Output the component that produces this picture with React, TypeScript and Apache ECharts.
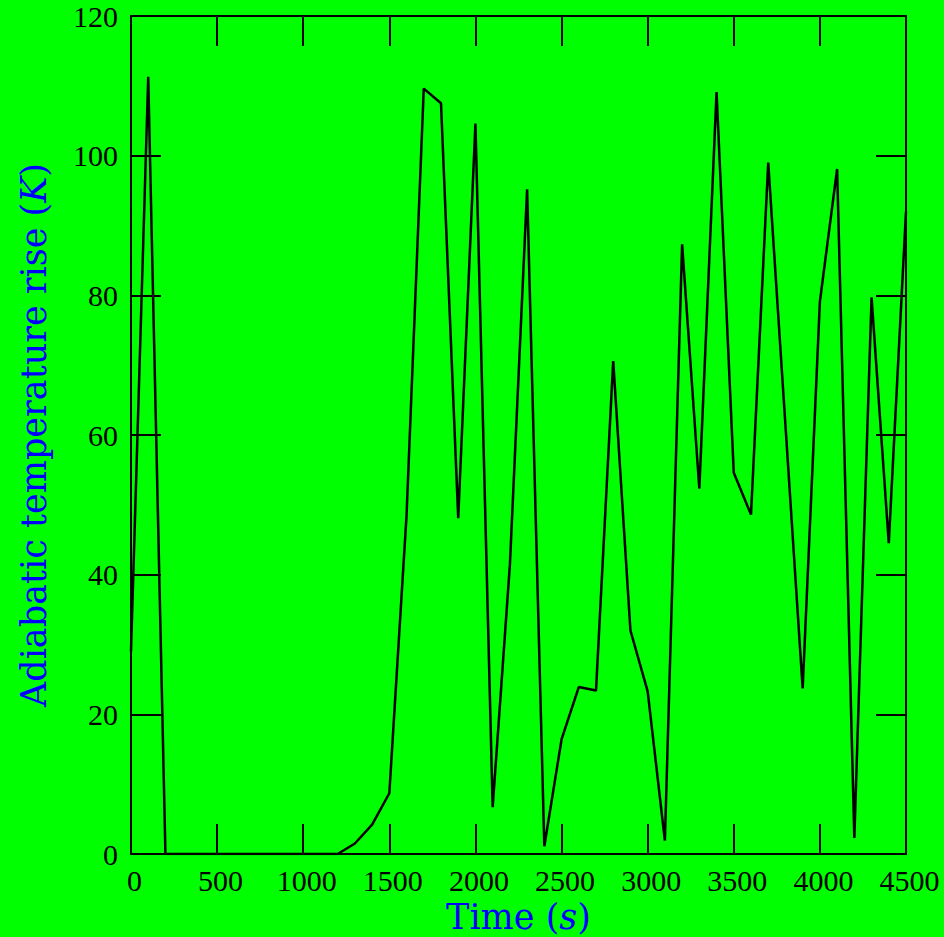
import React, { useEffect, useRef } from "react";
import * as echarts from "echarts";

const times = [0, 100, 200, 300, 400, 500, 600, 700, 800, 900, 1000, 1100, 1200, 1300, 1400, 1500, 1600, 1700, 1800, 1900, 2000, 2100, 2200, 2300, 2400, 2500, 2600, 2700, 2800, 2900, 3000, 3100, 3200, 3300, 3400, 3500, 3600, 3700, 3800, 3900, 4000, 4100, 4200, 4300, 4400, 4500];
const riseK = [29, 111.3, 0, 0, 0, 0, 0, 0, 0, 0, 0, 0, 0, 1.5, 4.2, 8.7, 48.5, 109.6, 107.5, 48.1, 104.6, 6.7, 41.4, 95.2, 1.1, 16.4, 23.9, 23.4, 70.6, 32.0, 23.3, 1.9, 87.3, 52.3, 109.1, 54.6, 48.6, 99.0, 61.4, 23.7, 79.1, 98.1, 2.3, 79.7, 44.5, 92.0];

const xName = "Time";
const xUnit = "s";
const yName = "Adiabatic temperature rise";
const yUnit = "K";

const FONT = "'Liberation Serif', 'DejaVu Serif', serif";
const NAME_FONT = "'DejaVu Serif', serif";

export default function App() {
  const ref = useRef<HTMLDivElement>(null);
  useEffect(() => {
    if (!ref.current) return;
    const chart = echarts.init(ref.current, null, { renderer: "svg" });
    const axisLine = { show: true, onZero: false, lineStyle: { color: "#000", width: 2 } };
    const axisTick = { show: true, inside: true, length: 30, lineStyle: { color: "#000", width: 2 } };
    const label = { color: "#000", fontSize: 30, fontFamily: FONT, formatter: (v: number) => String(v) };
    const nameRich = {
      n: { color: "#0000ff", fontSize: 35, fontFamily: NAME_FONT },
      i: { color: "#0000ff", fontSize: 35, fontFamily: NAME_FONT, fontStyle: "italic" as const },
    };
    chart.setOption({
      animation: false,
      backgroundColor: "#00ff00",
      grid: { left: 131, right: 38, top: 16, bottom: 83, containLabel: false, outerBoundsMode: "none" },
      xAxis: [
        {
          type: "value", min: 0, max: 4500, interval: 500, position: "bottom",
          axisLine, axisTick, splitLine: { show: false },
          axisLabel: { ...label, margin: 11, padding: [0, 0, 0, 7] },
          name: `{n|${xName} (}{i|${xUnit}}{n|)}`,
          nameLocation: "middle", nameGap: 44,
          nameTextStyle: { rich: nameRich },
        },
        {
          type: "value", min: 0, max: 4500, interval: 500, position: "top",
          axisLine, axisTick, splitLine: { show: false }, axisLabel: { show: false },
        },
      ],
      yAxis: [
        {
          type: "value", min: 0, max: 120, interval: 20, position: "left",
          axisLine, axisTick, splitLine: { show: false },
          axisLabel: { ...label, margin: 13 },
          name: `{n|${yName} (}{i|${yUnit}}{n|)}`,
          nameLocation: "middle", nameGap: 80, nameRotate: 90,
          nameTextStyle: { rich: nameRich },
        },
        {
          type: "value", min: 0, max: 120, interval: 20, position: "right",
          axisLine, axisTick, splitLine: { show: false }, axisLabel: { show: false },
        },
      ],
      series: [
        {
          type: "line",
          data: times.map((t, i) => [t, riseK[i]]),
          showSymbol: false,
          symbol: "none",
          lineStyle: { color: "#000", width: 2.5 },
          xAxisIndex: 0, yAxisIndex: 0,
        },
      ],
    });
    return () => chart.dispose();
  }, []);
  return <div ref={ref} style={{ position: "fixed", left: 0, top: 0, width: 944, height: 937 }} />;
}
